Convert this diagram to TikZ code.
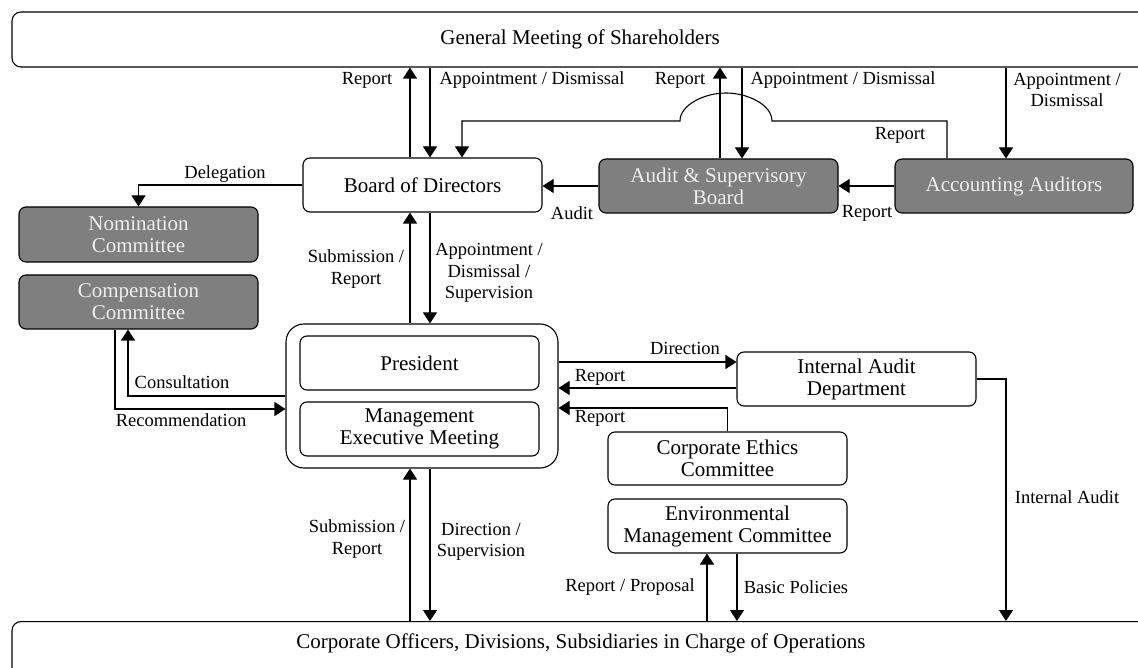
\documentclass[tikz,border=0pt]{standalone}
\usepackage{fontspec}
\setmainfont{Liberation Serif}
\usepackage{tikz}
\usetikzlibrary{arrows.meta}
\definecolor{darkbox}{RGB}{127,127,127}
\definecolor{darktext}{RGB}{238,238,238}

\begin{document}
\begin{tikzpicture}[x=1pt,y=-1pt,line width=1.1pt,
    orgbox/.style={draw,rounded corners=7pt,inner sep=0pt,align=center,
      font=\fontsize{21}{22}\selectfont,minimum height=54pt},
    darkorg/.style={orgbox,fill=darkbox,text=darktext},
    lbl/.style={align=center,inner sep=0pt,font=\fontsize{18.5}{21.5}\selectfont},
    arr/.style={-{Triangle[width=14pt,length=11pt]}}]
	\clip (0,0) rectangle (1138,668);
	\node[orgbox,minimum width=1136pt,minimum height=55pt,rounded corners=9pt] (gms) at (580,39.5) {General Meeting of Shareholders};
	\node[orgbox,minimum width=239pt] (bod) at (422.5,185) {Board of Directors};
	\node[darkorg,minimum width=239pt] (asb) at (718.5,186) {Audit \& Supervisory\\Board};
	\node[darkorg,minimum width=238pt] (aa) at (1014,186) {Accounting Auditors};
	\node[darkorg,minimum width=239pt,minimum height=55pt] (nc) at (138.5,234.5) {Nomination\\Committee};
	\node[darkorg,minimum width=239pt] (cc) at (138.5,302) {Compensation\\Committee};
	\node[orgbox,minimum width=272pt,minimum height=144pt,rounded corners=18pt] (exec) at (422,396) {};
	\node[orgbox,minimum width=239pt] (pres) at (419.5,363) {President};
	\node[orgbox,minimum width=239pt] (mem) at (419.5,429) {Management\\Executive Meeting};
	\node[orgbox,minimum width=239pt] (iad) at (856.5,379) {Internal Audit\\Department};
	\node[orgbox,minimum width=239pt,minimum height=53pt] (ce) at (727.5,458.5) {Corporate Ethics\\Committee};
	\node[orgbox,minimum width=239pt] (env) at (727.5,526) {Environmental\\Management Committee};
	\node[orgbox,minimum width=1138pt,minimum height=64pt,text height=15pt,text depth=25pt,anchor=north,rounded corners=9pt] (ops) at (581,621) {Corporate Officers, Divisions, Subsidiaries in Charge of Operations};

	\draw[arr] (410,0 |- bod.north) -- (410,0 |- gms.south);
	\draw[arr] (430,0 |- gms.south) -- (430,0 |- bod.north);
	\draw[arr] (720,0 |- asb.north) -- (720,0 |- gms.south);
	\draw[arr] (742,0 |- gms.south) -- (742,0 |- asb.north);
	\draw[arr] (1006,0 |- gms.south) -- (1006,0 |- aa.north);
	\draw[arr] (947,0 |- aa.north) |- (772,121) .. controls (772,105) and (748,93) .. (726,93) .. controls (704,93) and (680,105) .. (680,121) -| (462,0 |- bod.north);
	\draw[arr] (aa.west) -- (asb.east);
	\draw[arr] (asb.west) -- (asb.west -| bod.east);
	\draw[arr] (bod.west) -| (nc.north);
	\draw[arr] (410,0 |- exec.north) -- (410,0 |- bod.south);
	\draw[arr] (430,0 |- bod.south) -- (430,0 |- exec.north);
	\draw[arr] (exec.west) -| (128,0 |- cc.south);
	\draw[arr] (115,0 |- cc.south) |- (exec.west |- 0,409);
	\draw[arr] (exec.east |- 0,362) -- (iad.west |- 0,362);
	\draw[arr] (iad.west |- 0,388) -- (exec.east |- 0,388);
	\draw[arr] (ce.north) |- (exec.east |- 0,408);
	\draw[arr] (iad.east) -| (1006,0 |- ops.north);
	\draw[arr] (410,0 |- ops.north) -- (410,0 |- exec.south);
	\draw[arr] (430,0 |- exec.south) -- (430,0 |- ops.north);
	\draw[arr] (707,0 |- ops.north) -- (707,0 |- env.south);
	\draw[arr] (737,0 |- env.south) -- (737,0 |- ops.north);

	\node[lbl] at (367,80) {Report};
	\node[lbl] at (532,80) {Appointment / Dismissal};
	\node[lbl] at (680,80) {Report};
	\node[lbl] at (843,80) {Appointment / Dismissal};
	\node[lbl] at (1067,90) {Appointment /\\Dismissal};
	\node[lbl] at (900,135) {Report};
	\node[lbl] at (225,174) {Delegation};
	\node[lbl] at (572,213) {Audit};
	\node[lbl] at (867,213) {Report};
	\node[lbl] at (356,269) {Submission /\\Report};
	\node[lbl] at (489,273) {Appointment /\\Dismissal /\\Supervision};
	\node[lbl] at (182,382) {Consultation};
	\node[lbl] at (181,420) {Recommendation};
	\node[lbl] at (685,348) {Direction};
	\node[lbl] at (600,377) {Report};
	\node[lbl] at (600,418) {Report};
	\node[lbl] at (1067,497) {Internal Audit};
	\node[lbl] at (357,539) {Submission /\\Report};
	\node[lbl] at (481,542) {Direction /\\Supervision};
	\node[lbl] at (630,587) {Report / Proposal};
	\node[lbl] at (796,587) {Basic Policies};
\end{tikzpicture}
\end{document}
